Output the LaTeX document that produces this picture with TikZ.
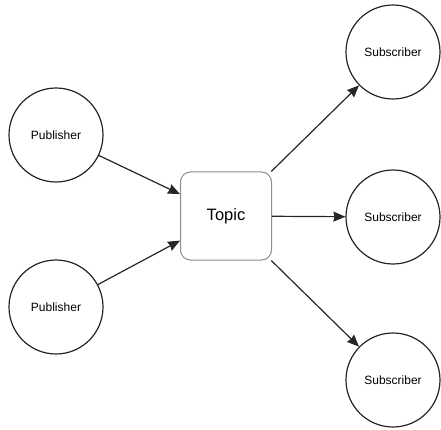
\documentclass[tikz,border=0pt]{standalone}
\usepackage{fontspec}
\setmainfont{Liberation Sans}
\usetikzlibrary{shapes.geometric,arrows.meta,positioning}

\begin{document}
\begin{tikzpicture}
[x=1pt,y=-1pt,>={Stealth[length=12pt,width=10pt,inset=1pt]},
 client/.style = {draw=black!85, circle, line width=1.2pt, minimum size=94pt, inner sep=0pt, font=\fontsize{12}{14}\selectfont},
 topicbox/.style = {draw=black!45, rectangle, rounded corners=10pt, line width=1pt, minimum width=91pt, minimum height=88pt, font=\fontsize{16.5}{19}\selectfont},
 link/.style = {->, line width=1.2pt, draw=black!85},]
\useasboundingbox (0,0) rectangle (441,430);
\node (T) at (226,216)[topicbox] {Topic};
\node (P1) at (56,135)[client] {Publisher};
\node (P2) at (56,307)[client] {Publisher};
\node (S1) at (393,52)[client] {Subscriber};
\node (S2) at (393,217)[client] {Subscriber};
\node (S3) at (393,380)[client] {Subscriber};
\draw[link] (P1)--(T);
\draw[link] (P2)--(T);
\draw[link] (T)--(S1);
\draw[link] (T)--(S2);
\draw[link] (T)--(S3);
\end{tikzpicture}
\end{document}
